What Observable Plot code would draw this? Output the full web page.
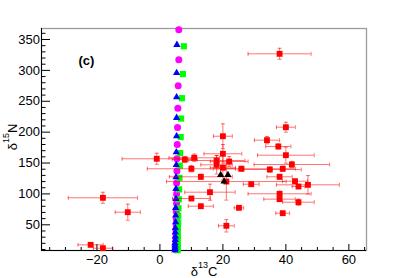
<!DOCTYPE html>
<html><head><meta charset="utf-8">
<script src="https://cdn.jsdelivr.net/npm/d3@7"></script>
<script src="https://cdn.jsdelivr.net/npm/@observablehq/plot@0.6"></script>
<style>html,body{margin:0;padding:0;background:#fff}svg{display:block}</style>
</head><body><div id="chart"></div>
<script>
const xDomain = [-37.6, 65.6];
const yDomain = [8.4, 367.8];
const xMajorTicks = [-20, 0, 20, 40, 60];
const xMinorTicks = [-35, -30, -25, -15, -10, -5, 5, 10, 15, 25, 30, 35, 45, 50, 55, 65];
const yMajorTicks = [50, 100, 150, 200, 250, 300, 350];
const yMinorTicks = [10, 20, 30, 40, 60, 70, 80, 90, 110, 120, 130, 140, 160, 170, 180, 190, 210, 220, 230, 240, 260, 270, 280, 290, 310, 320, 330, 340, 360];
const xTitle = ["δ", "13", "C"];
const yTitle = ["δ", "15", "N"];
const panelLabel = "(c)";

// measured points (red, with errors)
const redX    = [-22.0, -18.1, -18.1, -10.2, -1.0, 7.9, 10.9, 18.0, 22.0, 18.0, 20.0, 10.0, 25.9, 34.9, 13.0, 21.1, 29.0, 15.9, 10.0, 13.0, 25.1, 21.1, 20.0, 20.0, 34.0, 37.6, 38.0, 40.0, 40.0, 41.9, 39.0, 38.0, 42.9, 44.0, 47.0, 38.0, 38.0, 44.0, 39.0];
const redY    = [17.6, 12.1, 93.7, 70.4, 156.9, 155.7, 158.5, 154.1, 152.5, 147.1, 142.3, 140.7, 140.7, 139.5, 127.7, 120.0, 115.7, 102.8, 92.6, 80.1, 77.5, 48.4, 193.4, 165.0, 187.0, 176.8, 326.8, 208.0, 162.7, 147.6, 140.7, 127.7, 120.6, 112.0, 114.7, 100.2, 91.5, 86.6, 68.8];
const redXErr = [4, 3, 11, 4, 11, 4, 8, 9, 6, 5, 4, 14, 9, 10, 10, 19, 2.5, 8, 6, 4, 1.5, 2.5, 3, 6, 4, 4, 10, 3, 9, 12, 4, 4, 4, 2, 10, 10, 5, 5, 2.2];
const redYErr = [3, 3, 9, 13, 9, 5, 6, 8, 8, 15, 20, 5, 4, 4, 4, 30, 3, 13, 3, 3, 2, 10, 20, 15, 6, 4, 9, 8, 13, 5, 4, 4, 3, 3, 15, 4, 3, 5, 3];

// model series along the vertical column
const magentaX = [6.0, 6.0, 5.8, 5.7, 5.6, 5.5, 5.4, 5.4, 5.3, 5.3, 5.3, 5.2, 5.2, 5.2, 5.1, 5.1, 5.1, 5.1, 5.0, 5.0, 5.0, 5.0];
const magentaY = [365.7, 317.1, 275.0, 238.8, 207.5, 180.0, 157.0, 137.0, 117.5, 100.0, 85.0, 71.5, 59.5, 49.5, 41.5, 34.5, 28.3, 22.9, 18.2, 14.8, 12.0, 9.8];
const blueX = [5.4, 5.3, 5.3, 5.3, 5.3, 5.2, 5.2, 5.1, 5.1, 5.1, 5.0, 5.0, 5.0, 4.9, 4.9, 4.9, 4.9, 4.8, 4.8, 4.8, 4.8, 4.8];
const blueY = [341.4, 296.0, 256.6, 223.2, 193.4, 167.5, 147.1, 127.1, 108.3, 92.1, 77.5, 65.1, 54.2, 45.1, 38.0, 31.1, 25.7, 20.2, 16.5, 13.5, 11.0, 9.0];
const greenX = [7.6, 7.3, 7.0, 6.7, 6.6, 6.4, 6.3, 6.2, 6.1, 6.0, 5.9, 5.8, 5.8, 5.7, 5.7, 5.7, 5.6, 5.6, 5.6, 5.6, 5.6, 5.6];
const greenY = [339.0, 294.0, 255.0, 222.0, 192.0, 166.0, 145.8, 126.0, 107.3, 91.2, 76.8, 64.5, 53.7, 44.7, 37.6, 30.8, 25.4, 20.0, 16.3, 13.3, 10.9, 8.9];
const blackX = [19.3, 21.6, 20.4];
const blackY = [130.9, 130.9, 120.1];

const idx = a => d3.range(a.length);
const vCap = {draw(ctx){ ctx.moveTo(0, -2); ctx.lineTo(0, 2); }};
const hCap = {draw(ctx){ ctx.moveTo(-2, 0); ctx.lineTo(2, 0); }};
const errStyle = {stroke: "#ff0000", strokeOpacity: 0.55, strokeWidth: 1};
const R = idx(redX);

const chart = Plot.plot({
  width: 407, height: 278,
  marginLeft: 41, marginRight: 41, marginTop: 28, marginBottom: 28,
  style: {fontFamily: "'Liberation Sans', Arial, sans-serif", fontSize: "13px", background: "#fff", color: "#000"},
  x: {domain: xDomain},
  y: {domain: yDomain},
  marks: [
    Plot.frame({stroke: "#9a9a9a", strokeWidth: 1.3}),
    Plot.axisX(xMajorTicks, {anchor: "bottom", tickSize: -6, tickPadding: 10, fontSize: 13, label: null}),
    Plot.axisX(xMinorTicks, {anchor: "bottom", tickSize: -3, tickFormat: () => "", label: null}),
    Plot.axisY(yMajorTicks, {anchor: "left", tickSize: -9, tickPadding: 10.5, fontSize: 13, label: null}),
    Plot.axisY(yMinorTicks, {anchor: "left", tickSize: -4.5, tickFormat: () => "", label: null}),
    Plot.ruleX([xDomain[0]], {stroke: "#000"}),
    Plot.ruleY([yDomain[0]], {stroke: "#000"}),
    Plot.dot(idx(magentaX), {x: i => magentaX[i], y: i => magentaY[i], r: 3.5, fill: "#ff00ff"}),
    Plot.dot(idx(greenX), {x: i => greenX[i], y: i => greenY[i], r: 3.5, symbol: "square", fill: "#00ff00"}),
    Plot.dot(idx(blueX), {x: i => blueX[i], y: i => blueY[i], r: 2.7, symbol: "triangle", fill: "#0000ff"}),
    Plot.ruleY(R, {y: i => redY[i], x1: i => redX[i] - redXErr[i], x2: i => redX[i] + redXErr[i], ...errStyle}),
    Plot.ruleX(R, {x: i => redX[i], y1: i => redY[i] - redYErr[i], y2: i => redY[i] + redYErr[i], ...errStyle}),
    Plot.dot(R, {x: i => redX[i] - redXErr[i], y: i => redY[i], symbol: vCap, r: 1, fill: "none", ...errStyle}),
    Plot.dot(R, {x: i => redX[i] + redXErr[i], y: i => redY[i], symbol: vCap, r: 1, fill: "none", ...errStyle}),
    Plot.dot(R, {x: i => redX[i], y: i => redY[i] - redYErr[i], symbol: hCap, r: 1, fill: "none", ...errStyle}),
    Plot.dot(R, {x: i => redX[i], y: i => redY[i] + redYErr[i], symbol: hCap, r: 1, fill: "none", ...errStyle}),
    Plot.dot(R, {x: i => redX[i], y: i => redY[i], r: 3.3, symbol: "square", fill: "#ff0000"}),
    Plot.dot(idx(blackX), {x: i => blackX[i], y: i => blackY[i], r: 2.7, symbol: "triangle", fill: "#000"}),
    Plot.text([panelLabel], {frameAnchor: "top-left", dx: 37, dy: 32, textAnchor: "start", lineAnchor: "middle", fontWeight: "bold", fontSize: 13})
  ]
});
document.getElementById("chart").appendChild(chart);

const svg = d3.select(chart);
const xt = svg.append("text").attr("x", 204).attr("y", 276).attr("text-anchor", "middle")
  .attr("font-size", 13).attr("fill", "#000");
xt.append("tspan").text(xTitle[0]);
xt.append("tspan").attr("font-size", 9).attr("dy", -8).text(xTitle[1]);
xt.append("tspan").attr("dy", 8).text(xTitle[2]);
const yt = svg.append("text").attr("transform", "translate(16.5,137) rotate(-90)").attr("text-anchor", "middle")
  .attr("font-size", 13).attr("fill", "#000");
yt.append("tspan").text(yTitle[0]);
yt.append("tspan").attr("font-size", 9).attr("dy", -8).text(yTitle[1]);
yt.append("tspan").attr("dy", 8).text(yTitle[2]);
</script>
</body></html>
